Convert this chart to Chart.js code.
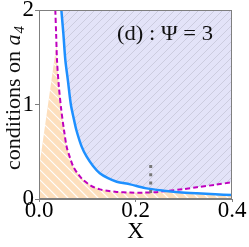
<!DOCTYPE html>
<html>
<head>
<meta charset="utf-8">
<script src="https://cdn.jsdelivr.net/npm/chart.js@4.4.1/dist/chart.umd.min.js"></script>
<style>
html,body{margin:0;padding:0;background:#fff;}
#wrap{width:249px;height:247px;}
</style>
</head>
<body>
<div id="wrap"><canvas id="c" width="249" height="247"></canvas></div>
<script>
// ---- data ----
const blueX = [0.0463,0.0505,0.0546,0.060,0.066,0.0725,0.0774,0.088,0.0988,0.112,0.126,0.143,0.161,0.189,0.22,0.258,0.29,0.327,0.365,0.4];
const blueY = [2.0,1.75,1.47,1.25,1.0,0.84,0.73,0.56,0.448,0.35,0.272,0.22,0.183,0.155,0.115,0.088,0.072,0.06,0.05,0.042];
const magX = [0.0338,0.0355,0.0373,0.041,0.046,0.0518,0.0573,0.064,0.0711,0.08,0.0918,0.108,0.126,0.145,0.161,0.189,0.215,0.24,0.265,0.3,0.327,0.365,0.4];
const magY = [2.0,1.75,1.47,1.2,0.95,0.73,0.553,0.44,0.342,0.27,0.2,0.14,0.102,0.085,0.075,0.068,0.067,0.072,0.085,0.105,0.125,0.15,0.177];
const markX = [0.2315,0.2315];
const markY = [0.36,0.0];
const xTicks = [0.0,0.2,0.4];
const xTickLabels = ['0.0','0.2','0.4'];
const yTicks = [0,1,2];
const yTickLabels = ['0','1','2'];
const panelLabel = '(d) : \u03A8 = 3';
const xTitle = 'X';
const yTitleMain = 'conditions on ';
const yTitleVar = 'a';
const yTitleSub = '4';

const pts = (xs, ys) => xs.map((x, i) => ({x: x, y: ys[i]}));
const SERIF = '"Liberation Serif","DejaVu Serif",serif';

function hatch(ctx, a, spacing, up, color, width) {
  ctx.strokeStyle = color; ctx.lineWidth = width;
  ctx.beginPath();
  const w = a.right - a.left, h = a.bottom - a.top;
  for (let c = -h; c < w + h; c += spacing) {
    if (up) { ctx.moveTo(a.left + c, a.bottom); ctx.lineTo(a.left + c + h, a.top); }
    else { ctx.moveTo(a.left + c, a.top); ctx.lineTo(a.left + c + h, a.bottom); }
  }
  ctx.stroke();
}
function curvePath(ctx, pts) {
  pts.forEach((p, i) => { if (i === 0) ctx.moveTo(p.x, p.y); else ctx.lineTo(p.x, p.y); });
}
function below(ctx, a, p) {
  ctx.beginPath();
  ctx.moveTo(a.left - 5, a.top - 5); ctx.lineTo(p[0].x, a.top - 5);
  curvePath(ctx, p);
  ctx.lineTo(a.right + 5, p[p.length - 1].y); ctx.lineTo(a.right + 5, a.bottom + 5); ctx.lineTo(a.left - 5, a.bottom + 5);
  ctx.closePath();
}
function above(ctx, a, p) {
  ctx.beginPath();
  ctx.moveTo(p[0].x, a.top - 5);
  curvePath(ctx, p);
  ctx.lineTo(a.right + 5, p[p.length - 1].y); ctx.lineTo(a.right + 5, a.top - 5);
  ctx.closePath();
}

const regions = {
  id: 'regions',
  beforeDatasetsDraw(chart) {
    const ctx = chart.ctx, a = chart.chartArea;
    const pb = chart.getDatasetMeta(0).data.map(e => ({x: e.x, y: e.y}));
    const pm = chart.getDatasetMeta(1).data.map(e => ({x: e.x, y: e.y}));
    // orange: below both curves
    ctx.save();
    ctx.beginPath(); ctx.rect(a.left, a.top, a.right - a.left, a.bottom - a.top); ctx.clip();
    below(ctx, a, pb); ctx.clip();
    below(ctx, a, pm); ctx.clip();
    ctx.fillStyle = '#fddfbd'; ctx.fillRect(a.left, a.top, a.right - a.left, a.bottom - a.top);
    hatch(ctx, a, 10, false, 'rgba(255,255,255,0.95)', 1.2);
    ctx.restore();
    // lavender: above both curves
    ctx.save();
    ctx.beginPath(); ctx.rect(a.left, a.top, a.right - a.left, a.bottom - a.top); ctx.clip();
    above(ctx, a, pb); ctx.clip();
    above(ctx, a, pm); ctx.clip();
    ctx.fillStyle = '#e3e3f8'; ctx.fillRect(a.left, a.top, a.right - a.left, a.bottom - a.top);
    hatch(ctx, a, 8, true, 'rgba(180,180,196,0.6)', 0.8);
    ctx.restore();
  },
  afterDatasetsDraw(chart) {
    const ctx = chart.ctx, a = chart.chartArea;
    ctx.save();
    ctx.strokeStyle = '#7f7f7f'; ctx.lineWidth = 1;
    ctx.strokeRect(a.left + 0.5, a.top + 0.5, a.right - a.left - 1, a.bottom - a.top - 1);
    // panel label
    ctx.fillStyle = '#111';
    ctx.font = '22px ' + SERIF;
    ctx.textAlign = 'left'; ctx.textBaseline = 'alphabetic';
    const tw = ctx.measureText(panelLabel).width;
    ctx.save();
    ctx.translate(117, 40);
    ctx.scale(96 / tw, 1);
    ctx.fillText(panelLabel, 0, 0);
    ctx.restore();
    // y title
    ctx.translate(20, (a.top + a.bottom) / 2 - 6);
    ctx.rotate(-Math.PI / 2);
    ctx.font = '22px ' + SERIF;
    const w1 = ctx.measureText(yTitleMain).width;
    ctx.font = 'italic 22px ' + SERIF;
    const w2 = ctx.measureText(yTitleVar).width;
    ctx.font = 'italic 15px ' + SERIF;
    const w3 = ctx.measureText(yTitleSub).width;
    let x0 = -(w1 + w2 + w3) / 2;
    ctx.textAlign = 'left';
    ctx.font = '22px ' + SERIF; ctx.fillText(yTitleMain, x0, 0);
    ctx.font = 'italic 22px ' + SERIF; ctx.fillText(yTitleVar, x0 + w1, 0);
    ctx.font = 'italic 15px ' + SERIF; ctx.fillText(yTitleSub, x0 + w1 + w2 + 1, 4);
    ctx.restore();
  }
};

new Chart(document.getElementById('c'), {
  type: 'scatter',
  data: {
    datasets: [
      {data: pts(blueX, blueY), showLine: true, borderColor: '#1e90ff', borderWidth: 2.5, pointRadius: 0, tension: 0.3, order: 1},
      {data: pts(magX, magY), showLine: true, borderColor: '#bf00bf', borderWidth: 2, borderDash: [5, 3], pointRadius: 0, tension: 0.3, order: 2},
      {data: pts(markX, markY), showLine: true, borderColor: '#777777', borderWidth: 3, borderDash: [3, 5.3], borderCapStyle: 'butt', pointRadius: 0, order: 0}
    ]
  },
  options: {
    responsive: false,
    animation: false,
    devicePixelRatio: 1,
    layout: {padding: {top: 10, right: 17, left: 0, bottom: 0}},
    plugins: {legend: {display: false}, tooltip: {enabled: false}},
    scales: {
      x: {
        type: 'linear', min: 0, max: 0.4,
        afterBuildTicks: s => { s.ticks = xTicks.map(v => ({value: v})); },
        afterFit: s => { s.height = 48; s.paddingLeft = 0; s.paddingRight = 0; },
        ticks: {color: '#000', font: {family: SERIF, size: 23, lineHeight: 1}, padding: -3, maxRotation: 0,
          callback: (v) => xTickLabels[xTicks.indexOf(v)]},
        grid: {drawOnChartArea: false, drawTicks: true, tickLength: 3, color: '#7f7f7f'},
        border: {display: true, color: '#7f7f7f'},
        title: {display: true, text: xTitle, color: '#000', font: {family: SERIF, size: 23, lineHeight: 1}, padding: {top: 0, bottom: 4}}
      },
      y: {
        type: 'linear', min: 0, max: 2,
        afterBuildTicks: s => { s.ticks = yTicks.map(v => ({value: v})); },
        afterFit: s => { s.width = 39; s.paddingTop = 0; s.paddingBottom = 0; },
        ticks: {color: '#000', font: {family: SERIF, size: 23, lineHeight: 1}, padding: 1,
          callback: (v) => yTickLabels[yTicks.indexOf(v)]},
        grid: {drawOnChartArea: false, drawTicks: true, tickLength: 4, color: '#7f7f7f'},
        border: {display: true, color: '#7f7f7f'}
      }
    }
  },
  plugins: [regions]
});
</script>
</body>
</html>
